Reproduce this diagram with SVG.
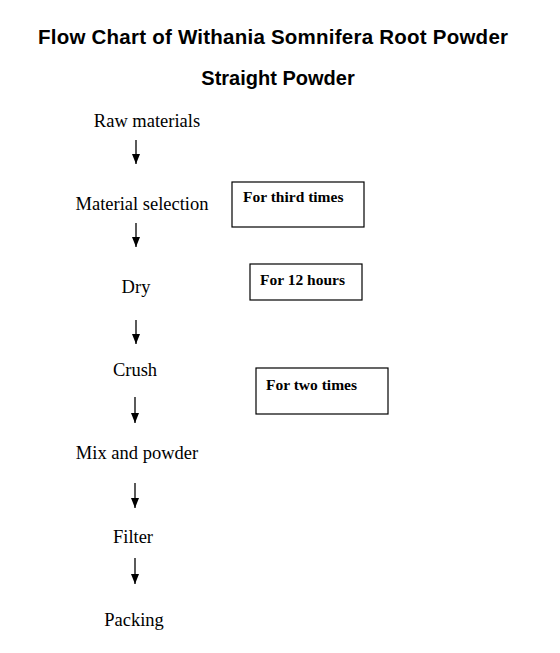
<svg xmlns="http://www.w3.org/2000/svg" width="560" height="653" viewBox="0 0 560 653">
<defs>
<style>
.title{font-family:"Liberation Sans",Arial,sans-serif;font-weight:bold;font-size:20.5px;fill:#000;text-anchor:middle}
.step{font-family:"Liberation Serif","Times New Roman",serif;font-size:18.5px;fill:#000;text-anchor:middle}
.note{font-family:"Liberation Serif","Times New Roman",serif;font-weight:bold;font-size:15.5px;fill:#000}
.box{fill:#fff;stroke:#000;stroke-width:1.2}
.conn{stroke:#000;stroke-width:1.3;fill:none}
</style>
<marker id="arr" viewBox="0 0 10 8" refX="10" refY="4" markerWidth="10" markerHeight="8" markerUnits="userSpaceOnUse" orient="auto">
<path d="M0,0 L10,4 L0,8 Z" fill="#000"/>
</marker>
</defs>
<rect width="560" height="653" fill="#fff"/>
<text class="title" x="273" y="44" textLength="470" lengthAdjust="spacing">Flow Chart of Withania Somnifera Root Powder</text>
<text class="title" x="278" y="85" style="font-size:20px">Straight Powder</text>
<g id="connectors">
<line class="conn" x1="136" y1="140" x2="136" y2="164" marker-end="url(#arr)"/>
<line class="conn" x1="136" y1="223" x2="136" y2="247" marker-end="url(#arr)"/>
<line class="conn" x1="136" y1="320" x2="136" y2="344" marker-end="url(#arr)"/>
<line class="conn" x1="135" y1="397" x2="135" y2="423" marker-end="url(#arr)"/>
<line class="conn" x1="135" y1="483" x2="135" y2="508" marker-end="url(#arr)"/>
<line class="conn" x1="135" y1="558" x2="135" y2="584" marker-end="url(#arr)"/>
</g>
<g id="raw-materials"><text class="step" x="147" y="127">Raw materials</text></g>
<g id="material-selection"><text class="step" x="142" y="210">Material selection</text></g>
<g id="dry"><text class="step" x="136" y="293">Dry</text></g>
<g id="crush"><text class="step" x="135" y="376">Crush</text></g>
<g id="mix-and-powder"><text class="step" x="137" y="459">Mix and powder</text></g>
<g id="filter"><text class="step" x="133" y="543">Filter</text></g>
<g id="packing"><text class="step" x="134" y="626">Packing</text></g>
<g id="note-third-times"><rect class="box" x="232" y="182" width="132" height="45"/><text class="note" x="243" y="202">For third times</text></g>
<g id="note-12-hours"><rect class="box" x="250" y="264" width="112" height="36"/><text class="note" x="260" y="285">For 12 hours</text></g>
<g id="note-two-times"><rect class="box" x="256" y="368" width="132" height="46"/><text class="note" x="266" y="390">For two times</text></g>
</svg>
